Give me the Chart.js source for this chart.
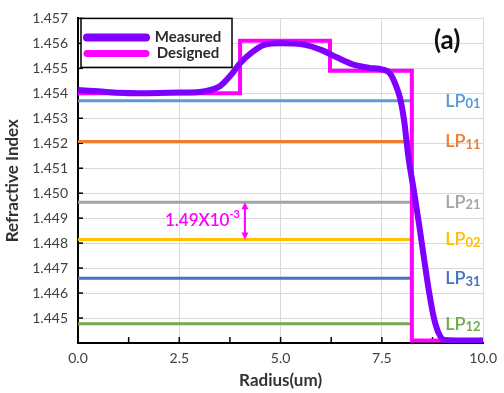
<!DOCTYPE html>
<html><head><meta charset="utf-8">
<script src="https://cdn.jsdelivr.net/npm/chart.js@4.4.1/dist/chart.umd.min.js"></script>
<style>html,body{margin:0;padding:0;background:#fff;}canvas{display:block;}</style>
</head><body>
<canvas id="c" width="504" height="393"></canvas>
<script>
// ---- data ----
const measuredR = [0, 0.5, 1.0, 1.5, 2.0, 2.5, 3.0, 3.3, 3.5, 3.8, 4.0, 4.3, 4.6, 5.0, 5.6, 6.0, 6.4, 6.8, 7.2, 7.5, 7.7, 7.85, 7.95, 8.05, 8.15, 8.3, 8.42, 8.54, 8.66, 8.78, 8.9, 9.05, 9.5, 10];
const measuredN = [1.45413, 1.45408, 1.45402, 1.45400, 1.45401, 1.45403, 1.45405, 1.45415, 1.45428, 1.45478, 1.45520, 1.45565, 1.45594, 1.45600, 1.45594, 1.45574, 1.45543, 1.45515, 1.45502, 1.45496, 1.45480, 1.45430, 1.45380, 1.45290, 1.45150, 1.45000, 1.44873, 1.44739, 1.44609, 1.44503, 1.44440, 1.44412, 1.44410, 1.44410];
const designedR = [0, 4.0, 4.0, 6.22, 6.22, 8.24, 8.24, 10];
const designedN = [1.4540, 1.4540, 1.4561, 1.4561, 1.4549, 1.4549, 1.4441, 1.4441];
const modeNames = ['01', '11', '21', '02', '31', '12'];
const modeIndex = [1.45370, 1.45207, 1.44964, 1.44815, 1.44659, 1.44477];
const modeEndR = 8.24;
const modeColors = ['#5B9BD5', '#ED7D31', '#A5A5A5', '#FFC000', '#4472C4', '#70AD47'];
const xTickValues = [0, 2.5, 5.0, 7.5, 10.0];
const yMin = 1.444, yMax = 1.457;
const spacingText = '1.49X10', spacingExp = '-3';
const spacingR = 4.12;
const panelLabel = '(a)';

const FONT = 'Lato, "Liberation Sans", sans-serif';

const datasets = [
  { label: 'Measured', data: measuredR.map((r, i) => ({x: r, y: measuredN[i]})),
    borderColor: '#7F00FF', borderWidth: 6, pointRadius: 0, cubicInterpolationMode: 'monotone', fill: false },
  { label: 'Designed', data: designedR.map((r, i) => ({x: r, y: designedN[i]})),
    borderColor: '#FF00FF', borderWidth: 4, pointRadius: 0, tension: 0, fill: false, borderJoinStyle: 'miter' }
];
modeNames.forEach((m, i) => {
  datasets.push({ label: 'LP' + m, data: [{x: 0, y: modeIndex[i]}, {x: modeEndR, y: modeIndex[i]}],
    borderColor: modeColors[i], borderWidth: 3, pointRadius: 0, fill: false });
});

const decor = {
  id: 'decor',
  beforeDatasetsDraw(chart) {
    const ctx = chart.ctx, xs = chart.scales.x, ys = chart.scales.y, ca = chart.chartArea;
    ctx.save();
    ctx.strokeStyle = '#000'; ctx.lineWidth = 1.5;
    for (let v = 1.25; v < 10; v += 1.25) {
      const px = xs.getPixelForValue(v);
      ctx.beginPath(); ctx.moveTo(px, ca.bottom); ctx.lineTo(px, ca.bottom - 6); ctx.stroke();
    }
    ys.ticks.forEach(t => {
      const py = ys.getPixelForValue(t.value);
      ctx.beginPath(); ctx.moveTo(ca.left, py); ctx.lineTo(ca.left + 5, py); ctx.stroke();
    });
    ctx.restore();
  },
  afterDraw(chart) {
    const ctx = chart.ctx, xs = chart.scales.x, ys = chart.scales.y, ca = chart.chartArea;
    ctx.save();
    // mode labels
    modeNames.forEach((m, i) => {
      const py = ys.getPixelForValue(modeIndex[i]);
      const x0 = ca.right - 38;
      ctx.fillStyle = modeColors[i];
      ctx.textBaseline = 'middle'; ctx.textAlign = 'left';
      ctx.font = '600 18px ' + FONT;
      ctx.fillText('LP', x0, py);
      const w = ctx.measureText('LP').width;
      ctx.font = 'bold 13px ' + FONT;
      ctx.fillText(m, x0 + w, py + 3);
    });
    // spacing annotation
    const ax = xs.getPixelForValue(spacingR);
    const ya = ys.getPixelForValue(modeIndex[2]), yb = ys.getPixelForValue(modeIndex[3]);
    ctx.strokeStyle = '#FF00FF'; ctx.fillStyle = '#FF00FF'; ctx.lineWidth = 2;
    ctx.beginPath(); ctx.moveTo(ax, ya + 2); ctx.lineTo(ax, yb - 2); ctx.stroke();
    ctx.beginPath(); ctx.moveTo(ax, ya); ctx.lineTo(ax - 3.5, ya + 7); ctx.lineTo(ax + 3.5, ya + 7); ctx.closePath(); ctx.fill();
    ctx.beginPath(); ctx.moveTo(ax, yb); ctx.lineTo(ax - 3.5, yb - 7); ctx.lineTo(ax + 3.5, yb - 7); ctx.closePath(); ctx.fill();
    const ym = (ya + yb) / 2;
    ctx.font = 'bold 11px ' + FONT;
    const we = ctx.measureText(spacingExp).width;
    ctx.textAlign = 'right'; ctx.textBaseline = 'middle';
    ctx.fillText(spacingExp, ax - 5, ym - 6);
    ctx.font = '600 17px ' + FONT;
    ctx.fillText(spacingText, ax - 5 - we, ym);
    // panel label
    ctx.fillStyle = '#111'; ctx.textAlign = 'center';
    ctx.font = 'bold 26px ' + FONT;
    ctx.fillText(panelLabel, ca.right - 36, ca.top + 22);
    // legend
    const lx = ca.left + 3, ly = ca.top, lw = 151, lh = 49;
    ctx.fillStyle = '#fff'; ctx.fillRect(lx, ly, lw, lh);
    ctx.strokeStyle = '#000'; ctx.lineWidth = 1.5; ctx.strokeRect(lx, ly, lw, lh);
    [0, 1].forEach(i => {
      const ds = chart.data.datasets[i];
      const yy = ly + 19 + i * 16;
      ctx.strokeStyle = ds.borderColor; ctx.lineWidth = i === 0 ? 8 : 7; ctx.lineCap = 'round';
      ctx.beginPath(); ctx.moveTo(lx + 6, yy); ctx.lineTo(lx + 65, yy); ctx.stroke();
      ctx.fillStyle = '#2b2b2b'; ctx.font = 'bold 15px ' + FONT; ctx.textAlign = 'center'; ctx.textBaseline = 'middle';
      ctx.fillText(ds.label, lx + 107, yy);
    });
    ctx.restore();
  }
};

new Chart(document.getElementById('c'), {
  type: 'line',
  data: { datasets },
  plugins: [decor],
  options: {
    responsive: false, animation: false, devicePixelRatio: 1,
    layout: { padding: { left: 0, right: 16, top: 13, bottom: 0 } },
    plugins: { legend: { display: false }, tooltip: { enabled: false } },
    scales: {
      x: {
        type: 'linear', min: 0, max: 10,
        afterBuildTicks: s => { s.ticks = xTickValues.map(v => ({value: v})); },
        afterFit: s => { s.height = 50; },
        ticks: { font: { family: FONT, size: 14 }, color: '#404040', padding: 7, maxRotation: 0,
                 callback: v => Number(v).toFixed(1) },
        grid: { color: '#D9D9D9', lineWidth: 1, drawTicks: false },
        border: { color: '#000', width: 2 },
        title: { display: true, text: 'Radius(um)', font: { family: FONT, size: 17, weight: 'bold' }, color: '#333', padding: { top: 0, bottom: 2 } }
      },
      y: {
        type: 'linear', min: yMin, max: yMax,
        ticks: { stepSize: 0.001, font: { family: FONT, size: 14 }, color: '#404040', padding: 10,
                 callback: v => { const r = Math.round(v * 1000) / 1000; return r === yMin ? '' : r.toFixed(3); } },
        afterFit: s => { s.width = 78; },
        grid: { color: '#D9D9D9', lineWidth: 1, drawTicks: false },
        border: { color: '#000', width: 2 },
        title: { display: true, text: 'Refractive Index', font: { family: FONT, size: 17, weight: 'bold' }, color: '#333', padding: { top: 2, bottom: 0 } }
      }
    }
  }
});
</script>
</body></html>
